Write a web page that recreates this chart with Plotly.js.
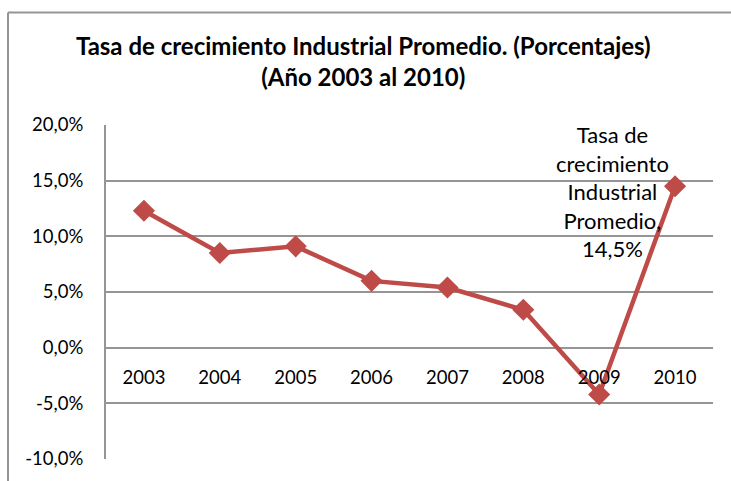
<!DOCTYPE html>
<html>
<head>
<meta charset="utf-8">
<script src="https://cdn.plot.ly/plotly-3.0.1.min.js"></script>
<style>html,body{margin:0;padding:0;background:#fff;}#chart{width:731px;height:481px;}</style>
</head>
<body>
<div id="chart"></div>
<script>
const years = ['2003','2004','2005','2006','2007','2008','2009','2010'];
const growth = [12.3, 8.5, 9.1, 6.0, 5.4, 3.4, -4.2, 14.5];
const seriesName = 'Tasa de crecimiento Industrial Promedio';
const yTicks = [-10, -5, 0, 5, 10, 15, 20];
const yTickText = yTicks.map(v => v.toFixed(1).replace('.', ',') + '%');

const FONT = 'Lato, "Liberation Sans", sans-serif';
const L = 106, R = 713, T = 125, B = 459, W = 731, H = 481;
const pw = R - L, ph = B - T;
const px = v => (v - L) / pw;
const py = v => (B - v) / ph;
const GRID = '#959595';

const trace = {
  x: years, y: growth, type: 'scatter', mode: 'lines+markers', name: seriesName,
  line: {color: '#BE4B48', width: 4.5},
  marker: {symbol: 'diamond', size: 17, color: '#BE4B48'},
  hoverinfo: 'skip'
};

const lastIdx = growth.length - 1;
const layout = {
  width: W, height: H,
  margin: {l: L, r: W - R, t: T, b: H - B, pad: 0},
  paper_bgcolor: '#fff', plot_bgcolor: '#fff',
  separators: ',.',
  showlegend: false,
  font: {family: FONT, color: '#000'},
  title: {
    text: '<b>Tasa de crecimiento Industrial Promedio. (Porcentajes)<br>(Año 2003 al 2010)</b>',
    font: {family: FONT, size: 24, color: '#000'},
    x: 0.497, xref: 'container', xanchor: 'center',
    y: 1 - 55 / H, yref: 'container', yanchor: 'top'
  },
  xaxis: {
    type: 'category', range: [-0.5, years.length - 0.5],
    anchor: 'free', position: 1 / 3,
    showline: false, showgrid: false, zeroline: false,
    ticks: 'outside', ticklen: 13, tickcolor: 'rgba(0,0,0,0)',
    tickfont: {family: FONT, size: 18.5, color: '#000'}
  },
  yaxis: {
    range: [-10, 20], tickmode: 'array', tickvals: yTicks, ticktext: yTickText,
    showline: true, linecolor: GRID, linewidth: 2,
    showgrid: true, gridcolor: GRID, gridwidth: 2,
    zeroline: true, zerolinecolor: GRID, zerolinewidth: 2,
    ticks: 'outside', ticklen: 17, tickcolor: 'rgba(0,0,0,0)',
    tickfont: {family: FONT, size: 18.5, color: '#000'}
  },
  annotations: [{
    x: lastIdx, y: growth[lastIdx], xref: 'x', yref: 'y',
    text: 'Tasa de<br>crecimiento<br>Industrial<br>Promedio,<br>' + growth[lastIdx].toFixed(1).replace('.', ',') + '%',
    showarrow: false, xshift: -63, yshift: -5,
    xanchor: 'center', yanchor: 'middle', align: 'center',
    font: {family: FONT, size: 22, color: '#000'}
  }],
  shapes: [
    {type: 'line', xref: 'paper', yref: 'paper', x0: px(8), x1: px(W + 5), y0: py(12.5), y1: py(12.5), line: {color: GRID, width: 2}},
    {type: 'line', xref: 'paper', yref: 'paper', x0: px(8), x1: px(8), y0: py(12.5), y1: py(H + 5), line: {color: GRID, width: 2}}
  ]
};

Plotly.newPlot('chart', [trace], layout, {displayModeBar: false, staticPlot: true});
</script>
</body>
</html>
